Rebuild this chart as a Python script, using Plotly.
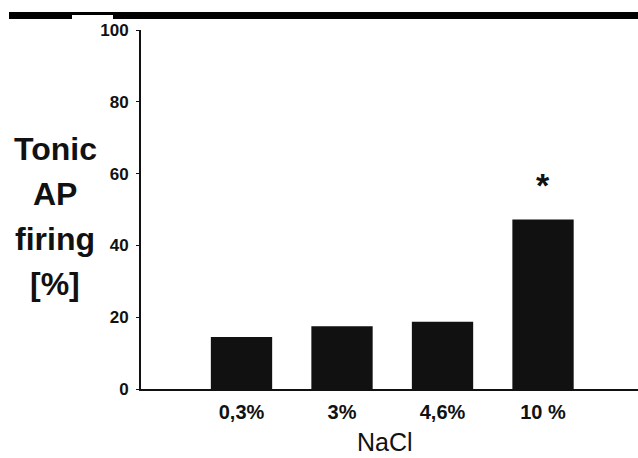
import plotly.graph_objects as go

# NaCl concentrations and percentage of cells with tonic AP firing
concentrations = ["0,3%", "3%", "4,6%", "10 %"]
tonic_firing = [14.5, 17.5, 18.7, 47.2]
significant = ["", "", "", "*"]

y_ticks = [0, 20, 40, 60, 80, 100]
y_title_lines = ["Tonic", "AP", "firing", "[%]"]

FONT = "Liberation Sans, Arial, sans-serif"
INK = "#111111"

W, H = 638, 458
L, R, T, B = 141, 0, 30, 69

fig = go.Figure()
fig.add_trace(go.Bar(
    x=concentrations,
    y=tonic_firing,
    width=0.61,
    marker=dict(color=INK, line=dict(width=0)),
    showlegend=False,
))

# significance marker above the bars
for cat, val, mark in zip(concentrations, tonic_firing, significant):
    if mark:
        fig.add_annotation(x=cat, y=val, text=f"<b>{mark}</b>", showarrow=False,
                           yanchor="bottom", yshift=14,
                           font=dict(family=FONT, size=34, color=INK))

# multi-line y-axis title, one annotation per line
for i, line in enumerate(y_title_lines):
    fig.add_annotation(xref="paper", yref="paper",
                       x=(55 - L) / (W - L - R), y=(389 - (149 + 45 * i)) / (389 - T),
                       text=f"<b>{line}</b>", showarrow=False,
                       xanchor="center", yanchor="middle",
                       font=dict(family=FONT, size=32, color=INK))

# x-axis title
fig.add_annotation(xref="paper", yref="paper",
                   x=(385 - L) / (W - L - R), y=(389 - 442) / (389 - T),
                   text="NaCl", showarrow=False,
                   xanchor="center", yanchor="middle",
                   font=dict(family=FONT, size=25, color=INK))

# heavy rule across the top of the figure
def px_x(p):
    return (p - L) / (W - L - R)

def px_y(p):
    return (389 - p) / (389 - T)

fig.add_shape(type="rect", xref="paper", yref="paper",
              x0=px_x(9), x1=px_x(638), y0=px_y(19), y1=px_y(12),
              fillcolor="#000000", line=dict(width=0), layer="above")
fig.add_shape(type="rect", xref="paper", yref="paper",
              x0=px_x(72), x1=px_x(113), y0=px_y(19.5), y1=px_y(15),
              fillcolor="#ffffff", line=dict(width=0), layer="above")

fig.update_layout(
    width=W, height=H,
    margin=dict(l=L, r=R, t=T, b=B),
    paper_bgcolor="white",
    plot_bgcolor="white",
    bargap=0.39,
    font=dict(family=FONT, color=INK),
)

fig.update_xaxes(
    range=[-1, 3.945],
    showline=True, linecolor=INK, linewidth=2,
    showgrid=False, zeroline=False,
    ticks="", ticklabelstandoff=4,
    tickfont=dict(family=FONT, size=20, color=INK),
    tickprefix="<b>", ticksuffix="</b>",
)
fig.update_yaxes(
    range=[0, 100],
    tickvals=y_ticks,
    ticktext=[f"<b>{v}</b>" for v in y_ticks],
    showline=True, linecolor=INK, linewidth=2,
    showgrid=False, zeroline=False,
    ticks="outside", ticklen=3, tickwidth=1, tickcolor=INK,
    ticklabelstandoff=4,
    tickfont=dict(family=FONT, size=17, color=INK),
)

fig.write_html("out.html")
